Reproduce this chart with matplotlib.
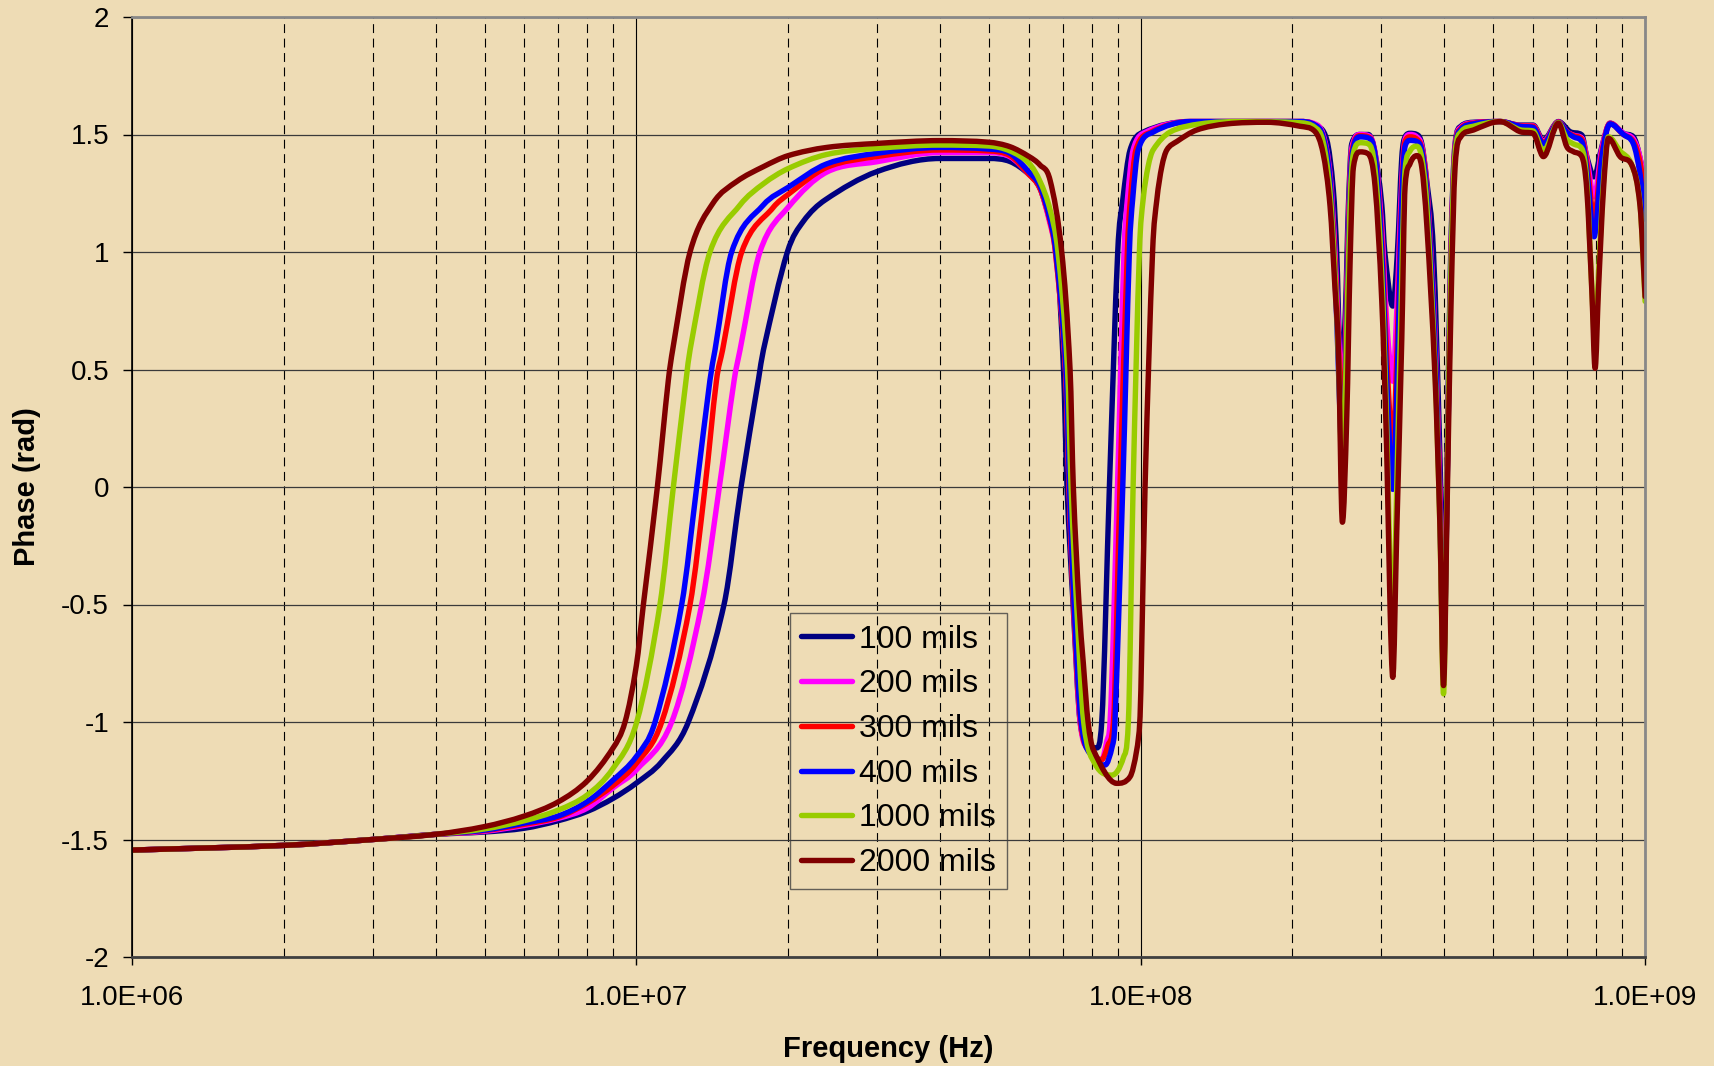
import numpy as np
import matplotlib
matplotlib.use("Agg")
import matplotlib.pyplot as plt
from matplotlib.path import Path
from matplotlib.patches import PathPatch
from matplotlib.lines import Line2D
from matplotlib.ticker import FixedLocator, FixedFormatter, LogLocator, NullFormatter

# ---------------- data (log10 frequency, phase in rad) ----------------
tail = [(6.0, -1.545), (6.301, -1.525), (6.477, -1.50), (6.602, -1.478)]

series_100 = [
    (6.699, -1.468), (6.778, -1.452), (6.845, -1.42), (6.903, -1.38), (6.954, -1.325),
    (7.0, -1.26), (7.05, -1.17), (7.1031, -1.0), (7.1739, -0.5), (7.2076, 0.0),
    (7.242, 0.455), (7.252, 0.583), (7.2995, 1.0), (7.331, 1.13), (7.374, 1.221),
    (7.477, 1.342), (7.602, 1.398), (7.699, 1.398), (7.741, 1.385), (7.7787, 1.33),
    (7.8005, 1.27), (7.8203, 1.13), (7.8335, 1.0), (7.847, 0.5), (7.854, 0.0),
    (7.866, -0.5), (7.880, -1.0), (7.898, -1.10), (7.9129, -1.11), (7.9228, -1.0),
    (7.938, 0.0), (7.9545, 1.0), (7.9645, 1.221), (7.979, 1.434), (8.0048, 1.51),
    (8.098, 1.555), (8.2, 1.555), (8.316, 1.555), (8.3458, 1.54), (8.369, 1.477),
    (8.382, 1.264), (8.389, 0.98), (8.394, 0.626), (8.400, 0.55), (8.406, 0.75),
    (8.412, 1.2), (8.4185, 1.46), (8.4351, 1.50), (8.4515, 1.50), (8.4648, 1.42),
    (8.4781, 1.2), (8.4840, 1.0), (8.4999, 0.77), (8.5091, 1.0), (8.5177, 1.4),
    (8.5243, 1.49), (8.5342, 1.505), (8.5475, 1.50), (8.5574, 1.46), (8.5673, 1.30),
    (8.5805, 1.0), (8.5937, 0.1), (8.6005, -0.6), (8.6081, 0.2), (8.6148, 1.0),
    (8.6234, 1.46), (8.6347, 1.535), (8.6597, 1.552), (8.7127, 1.555), (8.7523, 1.54),
    (8.7781, 1.54), (8.7986, 1.477), (8.8283, 1.555), (8.8515, 1.512), (8.8747, 1.498),
    (8.8846, 1.406), (8.8991, 1.32), (8.9144, 1.448), (8.9308, 1.548), (8.9572, 1.505),
    (8.977, 1.49), (9.0002, 1.306),
]

series_200 = [
    (6.699, -1.465), (6.778, -1.44), (6.845, -1.41), (6.903, -1.366), (6.954, -1.28),
    (7.0, -1.204), (7.0701, -1.0), (7.1297, -0.5), (7.1646, 0.0), (7.194, 0.455),
    (7.2056, 0.583), (7.245, 1.0), (7.301, 1.19), (7.3775, 1.34), (7.477, 1.384),
    (7.602, 1.423), (7.699, 1.423), (7.741, 1.405), (7.7787, 1.33), (7.8005, 1.27),
    (7.8203, 1.12), (7.831, 1.0), (7.851, 0.5), (7.858, 0.0), (7.867, -0.5),
    (7.880, -1.0), (7.898, -1.12), (7.9228, -1.16), (7.933, -1.08), (7.9393, -1.0),
    (7.954, 0.0), (7.967, 1.0), (7.9736, 1.221), (7.985, 1.434), (8.01, 1.51),
    (8.098, 1.555), (8.2, 1.555), (8.316, 1.555), (8.3458, 1.545), (8.3617, 1.50),
    (8.3756, 1.33), (8.3855, 1.0), (8.393, 0.62), (8.400, 0.40), (8.406, 0.62),
    (8.4118, 1.1), (8.4185, 1.44), (8.4351, 1.50), (8.4515, 1.495), (8.4648, 1.42),
    (8.4781, 1.1), (8.4880, 0.7), (8.4999, 0.45), (8.5078, 0.75), (8.5177, 1.3),
    (8.5243, 1.48), (8.5342, 1.50), (8.5475, 1.49), (8.5574, 1.45), (8.5673, 1.28),
    (8.5838, 0.65), (8.5937, -0.05), (8.6005, -0.7), (8.6081, 0.1), (8.6155, 1.0),
    (8.6234, 1.45), (8.6347, 1.53), (8.6597, 1.55), (8.7127, 1.555), (8.7523, 1.538),
    (8.7781, 1.537), (8.7986, 1.47), (8.8283, 1.553), (8.8450, 1.512), (8.8581, 1.497),
    (8.8747, 1.485), (8.8846, 1.40), (8.8991, 1.235), (8.9144, 1.44), (8.9308, 1.548),
    (8.9572, 1.505), (8.977, 1.48), (8.9903, 1.40), (9.0002, 1.25),
]

series_300 = [
    (6.699, -1.462), (6.778, -1.435), (6.845, -1.405), (6.903, -1.345), (6.954, -1.27),
    (7.0, -1.176), (7.0503, -1.0), (7.1065, -0.5), (7.1362, 0.0), (7.159, 0.455),
    (7.171, 0.583), (7.209, 1.0), (7.2716, 1.19), (7.301, 1.245), (7.3775, 1.36),
    (7.477, 1.406), (7.602, 1.434), (7.699, 1.43), (7.741, 1.41), (7.7787, 1.33),
    (7.8005, 1.27), (7.8203, 1.13), (7.831, 1.0), (7.851, 0.5), (7.858, 0.0),
    (7.867, -0.5), (7.881, -1.0), (7.90, -1.13), (7.9228, -1.16), (7.935, -1.1),
    (7.946, -1.0), (7.959, 0.0), (7.9736, 1.0), (7.9796, 1.221), (7.9906, 1.434),
    (8.02, 1.51), (8.098, 1.555), (8.2, 1.555), (8.316, 1.555), (8.3458, 1.54),
    (8.3617, 1.49), (8.3756, 1.31), (8.3855, 0.95), (8.393, 0.55), (8.400, 0.30),
    (8.406, 0.55), (8.4118, 1.05), (8.4185, 1.42), (8.4351, 1.495), (8.4515, 1.49),
    (8.4648, 1.41), (8.4781, 1.05), (8.4880, 0.55), (8.4999, 0.16), (8.5078, 0.55),
    (8.5177, 1.25), (8.5243, 1.47), (8.5342, 1.49), (8.5475, 1.48), (8.5574, 1.44),
    (8.5673, 1.27), (8.5838, 0.62), (8.5937, -0.1), (8.6005, -0.75), (8.6081, 0.08),
    (8.6155, 0.97), (8.6234, 1.44), (8.6347, 1.525), (8.6597, 1.548), (8.7127, 1.555),
    (8.7523, 1.537), (8.7781, 1.535), (8.7986, 1.465), (8.8283, 1.552), (8.8450, 1.512),
    (8.8581, 1.495), (8.8747, 1.48), (8.8846, 1.38), (8.8991, 1.15), (8.9144, 1.42),
    (8.9308, 1.547), (8.9572, 1.50), (8.977, 1.47), (8.9903, 1.38), (9.0002, 1.22),
]

series_400 = [
    (6.699, -1.46), (6.778, -1.43), (6.845, -1.40), (6.903, -1.338), (6.954, -1.247),
    (7.0, -1.147), (7.0371, -1.0), (7.090, -0.5), (7.1197, 0.0), (7.146, 0.455),
    (7.156, 0.583), (7.189, 1.0), (7.2518, 1.20), (7.301, 1.275), (7.3775, 1.375),
    (7.477, 1.42), (7.602, 1.445), (7.699, 1.438), (7.741, 1.42), (7.7787, 1.34),
    (7.8005, 1.28), (7.8203, 1.14), (7.832, 1.0), (7.852, 0.5), (7.859, 0.0),
    (7.868, -0.5), (7.882, -1.0), (7.905, -1.15), (7.9294, -1.183), (7.944, -1.1),
    (7.949, -1.0), (7.9645, 0.0), (7.9776, 1.0), (7.984, 1.221), (7.995, 1.434),
    (8.0246, 1.51), (8.098, 1.555), (8.2, 1.555), (8.316, 1.555), (8.3458, 1.54),
    (8.3617, 1.49), (8.3756, 1.30), (8.3855, 0.9), (8.393, 0.45), (8.400, 0.10),
    (8.406, 0.45), (8.4118, 1.0), (8.4185, 1.40), (8.4351, 1.49), (8.4515, 1.485),
    (8.4648, 1.41), (8.4781, 1.0), (8.4880, 0.45), (8.4999, -0.01), (8.5078, 0.4),
    (8.5177, 1.2), (8.5243, 1.45), (8.5342, 1.475), (8.5475, 1.47), (8.5574, 1.43),
    (8.5673, 1.25), (8.5838, 0.6), (8.5937, -0.15), (8.6005, -0.78), (8.6081, 0.05),
    (8.6155, 0.95), (8.6234, 1.43), (8.6347, 1.52), (8.6597, 1.545), (8.7127, 1.555),
    (8.7523, 1.535), (8.7781, 1.53), (8.7986, 1.46), (8.8283, 1.55), (8.8450, 1.51),
    (8.8581, 1.49), (8.8747, 1.47), (8.8846, 1.35), (8.8991, 1.065), (8.9144, 1.40),
    (8.9308, 1.545), (8.9572, 1.50), (8.977, 1.46), (8.9903, 1.33), (9.0002, 1.14),
]

series_1000 = [
    (6.699, -1.455), (6.778, -1.42), (6.845, -1.375), (6.903, -1.31),
    (6.954, -1.197), (7.0008, -1.0), (7.0469, -0.5), (7.0734, 0.0), (7.0986, 0.455),
    (7.1065, 0.583), (7.146, 1.0), (7.2056, 1.20), (7.2518, 1.29), (7.301, 1.355),
    (7.3775, 1.415), (7.477, 1.441), (7.602, 1.455), (7.699, 1.451), (7.741, 1.43),
    (7.7787, 1.377), (7.8005, 1.30), (7.8203, 1.18), (7.836, 1.0), (7.855, 0.5),
    (7.862, 0.0), (7.873, -0.5), (7.887, -1.0), (7.91, -1.18), (7.9427, -1.226),
    (7.966, -1.15), (7.9756, -1.0), (7.985, 0.0), (7.9975, 1.0), (8.0048, 1.221),
    (8.0147, 1.363), (8.0246, 1.434), (8.058, 1.51), (8.118, 1.545), (8.2, 1.555),
    (8.316, 1.55), (8.3458, 1.53), (8.3617, 1.47), (8.3756, 1.25), (8.3855, 0.9),
    (8.393, 0.5), (8.400, 0.0), (8.407, 0.5), (8.4152, 1.2), (8.4218, 1.42),
    (8.4351, 1.465), (8.4515, 1.46), (8.4648, 1.35), (8.4781, 0.9), (8.4880, 0.25),
    (8.4945, -0.35), (8.4999, -0.6), (8.5078, 0.0), (8.5177, 0.9), (8.5243, 1.35),
    (8.5342, 1.43), (8.5475, 1.45), (8.5574, 1.40), (8.5673, 1.2), (8.5838, 0.5),
    (8.5937, -0.2), (8.6005, -0.88), (8.6081, 0.1), (8.6155, 0.95), (8.6234, 1.42),
    (8.6347, 1.51), (8.6597, 1.535), (8.7127, 1.555), (8.7523, 1.52), (8.7781, 1.515),
    (8.7986, 1.43), (8.8283, 1.55), (8.8450, 1.48), (8.8581, 1.46), (8.8747, 1.44),
    (8.8846, 1.30), (8.8945, 0.85), (8.9011, 0.60), (8.9077, 0.90), (8.9176, 1.30),
    (8.9274, 1.49), (8.9506, 1.43), (8.9738, 1.37), (8.9903, 1.20), (9.0002, 0.79),
]

series_2000 = [
    (6.699, -1.445), (6.778, -1.40), (6.845, -1.34), (6.903, -1.25), (6.954, -1.11),
    (6.9776, -1.0), (7.0, -0.76), (7.014, -0.5), (7.0417, 0.0), (7.0635, 0.455),
    (7.072, 0.583), (7.1065, 1.0), (7.1527, 1.21), (7.199, 1.30), (7.2518, 1.363),
    (7.301, 1.41), (7.3775, 1.445), (7.477, 1.462), (7.602, 1.474), (7.699, 1.467),
    (7.741, 1.448), (7.7787, 1.406), (7.8005, 1.37), (7.8203, 1.306), (7.8435, 1.0),
    (7.860, 0.5), (7.8665, 0.0), (7.8778, -0.5), (7.8863, -0.75), (7.8957, -1.0),
    (7.9063, -1.119), (7.9526, -1.261), (7.979, -1.233), (7.9922, -1.119), (7.9988, -0.977),
    (8.002, -0.694), (8.0087, 0.0), (8.0236, 1.0), (8.032, 1.221), (8.0419, 1.363),
    (8.0518, 1.434), (8.0716, 1.47), (8.111, 1.519), (8.1707, 1.545), (8.25, 1.552),
    (8.316, 1.535), (8.3458, 1.512), (8.3617, 1.42), (8.3756, 1.193), (8.3855, 0.838),
    (8.3921, 0.583), (8.400, -0.15), (8.4087, 0.302), (8.4152, 0.953), (8.4218, 1.36),
    (8.4351, 1.426), (8.4515, 1.417), (8.4648, 1.279), (8.4781, 0.79), (8.4880, 0.14),
    (8.4945, -0.513), (8.4999, -0.81), (8.5078, -0.187), (8.5177, 0.627), (8.5243, 1.279),
    (8.5342, 1.376), (8.5475, 1.41), (8.5574, 1.36), (8.5673, 1.116), (8.5838, 0.46),
    (8.5937, -0.19), (8.6005, -0.845), (8.6081, -0.024), (8.6155, 0.79), (8.6234, 1.36),
    (8.6347, 1.49), (8.6597, 1.519), (8.7127, 1.555), (8.7523, 1.512), (8.7781, 1.505),
    (8.7986, 1.406), (8.8283, 1.548), (8.8450, 1.448), (8.8581, 1.427), (8.8747, 1.406),
    (8.8846, 1.264), (8.8945, 0.838), (8.9011, 0.505), (8.9077, 0.838), (8.9176, 1.264),
    (8.9274, 1.484), (8.9506, 1.406), (8.9738, 1.37), (8.9903, 1.193), (9.0002, 0.81),
]

labels = ["100 mils", "200 mils", "300 mils", "400 mils", "1000 mils", "2000 mils"]
colors = ["#000080", "#FF00FF", "#FF0000", "#0000FF", "#99CC00", "#800000"]
all_series = [series_100, series_200, series_300, series_400, series_1000, series_2000]

x_ticks = [1e6, 1e7, 1e8, 1e9]
x_tick_labels = ["1.0E+06", "1.0E+07", "1.0E+08", "1.0E+09"]
y_ticks = [-2, -1.5, -1, -0.5, 0, 0.5, 1, 1.5, 2]
y_tick_labels = ["-2", "-1.5", "-1", "-0.5", "0", "0.5", "1", "1.5", "2"]


def smooth_path(lf, ph):
    """Excel-like smoothed line: cubic Bezier segments through the data
    points (clamped Catmull-Rom tangents), built in log-frequency space."""
    x = np.asarray(lf, float)
    y = np.asarray(ph, float)
    h = np.diff(x)
    d = np.diff(y) / h
    m = np.zeros_like(y)
    m[0], m[-1] = d[0], d[-1]
    for i in range(1, len(y) - 1):
        if d[i - 1] * d[i] <= 0:
            m[i] = 0.0
        else:
            c = (y[i + 1] - y[i - 1]) / (x[i + 1] - x[i - 1])
            lim = 3.0 * min(abs(d[i - 1]), abs(d[i]))
            m[i] = np.sign(c) * min(abs(c), lim)
    verts = [(x[0], y[0])]
    codes = [Path.MOVETO]
    for i in range(len(h)):
        verts += [(x[i] + h[i] / 3, y[i] + m[i] * h[i] / 3),
                  (x[i + 1] - h[i] / 3, y[i + 1] - m[i + 1] * h[i] / 3),
                  (x[i + 1], y[i + 1])]
        codes += [Path.CURVE4] * 3
    verts = np.array(verts)
    verts[:, 0] = 10 ** verts[:, 0]
    return Path(verts, codes)


# ---------------- figure ----------------
plt.rcParams["font.family"] = ["Liberation Sans", "DejaVu Sans"]
W, H = 1714, 1066
bg = "#EEDCB5"
LW = 3.9
fig = plt.figure(figsize=(W / 100, H / 100), dpi=100)
fig.patch.set_facecolor(bg)
ax = fig.add_axes([132 / W, 1 - 957 / H, 1513 / W, 940 / H])
ax.set_facecolor(bg)
ax.set_xscale("log")
ax.set_xlim(1e6, 1e9)
ax.set_ylim(-2, 2)
ax.set_axisbelow(True)

handles = []
for s, lab, col in zip(all_series, labels, colors):
    pts = tail + s
    lf = [p[0] for p in pts]
    ph = [p[1] for p in pts]
    patch = PathPatch(smooth_path(lf, ph), fill=False, edgecolor=col, lw=LW,
                      capstyle="round", joinstyle="round", zorder=2)
    ax.add_patch(patch)
    handles.append(Line2D([], [], color=col, lw=LW, label=lab,
                          solid_capstyle="round"))

ax.xaxis.set_major_locator(FixedLocator(x_ticks))
ax.xaxis.set_major_formatter(FixedFormatter(x_tick_labels))
ax.xaxis.set_minor_locator(LogLocator(base=10, subs=np.arange(2, 10)))
ax.xaxis.set_minor_formatter(NullFormatter())
ax.yaxis.set_major_locator(FixedLocator(y_ticks))
ax.yaxis.set_major_formatter(FixedFormatter(y_tick_labels))

ax.grid(which="major", axis="x", color="black", lw=0.8, ls="-")
ax.grid(which="minor", axis="x", color="black", lw=0.8, ls=(0, (8, 5)))
ax.grid(which="major", axis="y", color="#3a3a3a", lw=0.9, ls="-")

ax.tick_params(axis="y", which="major", direction="out", length=6.5, width=1,
               pad=10, labelsize=20, colors="black")
ax.tick_params(axis="x", which="major", direction="out", length=6, width=1,
               pad=14, labelsize=20, colors="black")
ax.tick_params(axis="x", which="minor", length=0)

ax.spines["left"].set_color("black")
ax.spines["left"].set_linewidth(1.2)
ax.spines["bottom"].set_color("#404040")
ax.spines["bottom"].set_linewidth(2)
for side in ("top", "right"):
    ax.spines[side].set_color("#888888")
    ax.spines[side].set_linewidth(2)

ax.set_xlabel("Frequency (Hz)", fontsize=21, fontweight="bold", va="center")
ax.xaxis.set_label_coords(0.5, -0.0983)
ax.set_ylabel("Phase (rad)", fontsize=21, fontweight="bold", va="center", ha="center")
ax.yaxis.set_label_coords(-0.0694, 0.5)

leg = ax.legend(handles=handles, loc="lower left", bbox_to_anchor=(0.435, 0.072),
                borderaxespad=0, fontsize=23, frameon=True, fancybox=False,
                edgecolor="#404040", facecolor="none", handlelength=1.6,
                handletextpad=0.2, labelspacing=0.46, borderpad=0.35)
leg.get_frame().set_linewidth(1)

fig.savefig("out.png", dpi=100, facecolor=bg)
